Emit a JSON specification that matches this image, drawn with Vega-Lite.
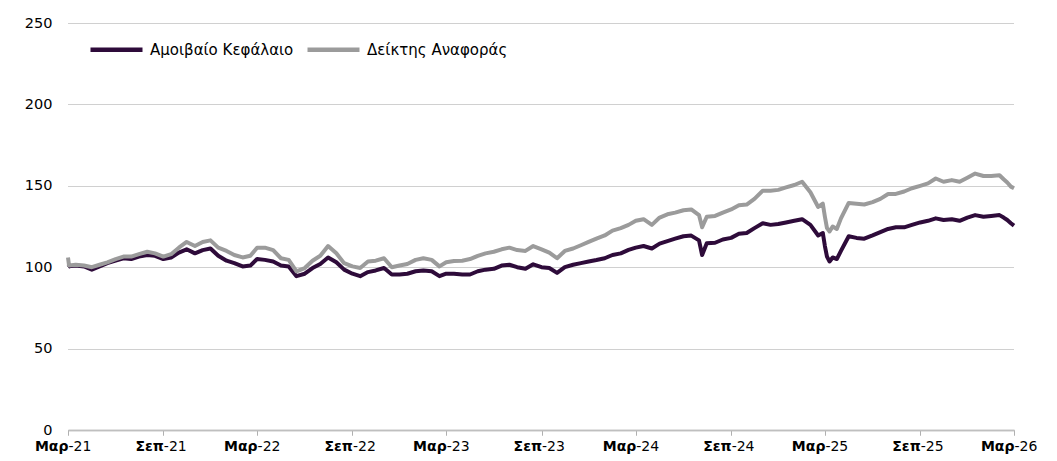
{
"$schema":"https://vega.github.io/schema/vega-lite/v6.json",
"width":946,"height":407,
"autosize":{"type":"none"},
"padding":{"left":68,"top":23,"right":43,"bottom":31},
"background":"white",
"config":{"view":{"stroke":null},"font":"DejaVu Sans"},
"data":{"values":[
{"date":"2021-03-01","Αμοιβαίο Κεφάλαιο":100,"Δείκτης Αναφοράς":106},
{"date":"2021-03-03","Αμοιβαίο Κεφάλαιο":100.5,"Δείκτης Αναφοράς":101},
{"date":"2021-03-16","Αμοιβαίο Κεφάλαιο":101,"Δείκτης Αναφοράς":101.5},
{"date":"2021-04-01","Αμοιβαίο Κεφάλαιο":100.5,"Δείκτης Αναφοράς":101},
{"date":"2021-04-16","Αμοιβαίο Κεφάλαιο":98.5,"Δείκτης Αναφοράς":100},
{"date":"2021-05-01","Αμοιβαίο Κεφάλαιο":100.5,"Δείκτης Αναφοράς":101.5},
{"date":"2021-05-16","Αμοιβαίο Κεφάλαιο":102.5,"Δείκτης Αναφοράς":103},
{"date":"2021-06-01","Αμοιβαίο Κεφάλαιο":104,"Δείκτης Αναφοράς":105},
{"date":"2021-06-16","Αμοιβαίο Κεφάλαιο":105.5,"Δείκτης Αναφοράς":106.5},
{"date":"2021-07-01","Αμοιβαίο Κεφάλαιο":105,"Δείκτης Αναφοράς":106.5},
{"date":"2021-07-16","Αμοιβαίο Κεφάλαιο":106.5,"Δείκτης Αναφοράς":108},
{"date":"2021-08-01","Αμοιβαίο Κεφάλαιο":107.5,"Δείκτης Αναφοράς":109.5},
{"date":"2021-08-16","Αμοιβαίο Κεφάλαιο":107,"Δείκτης Αναφοράς":108.5},
{"date":"2021-09-01","Αμοιβαίο Κεφάλαιο":105,"Δείκτης Αναφοράς":106.5},
{"date":"2021-09-16","Αμοιβαίο Κεφάλαιο":106,"Δείκτης Αναφοράς":108},
{"date":"2021-10-01","Αμοιβαίο Κεφάλαιο":109,"Δείκτης Αναφοράς":112},
{"date":"2021-10-16","Αμοιβαίο Κεφάλαιο":111,"Δείκτης Αναφοράς":115.5},
{"date":"2021-11-01","Αμοιβαίο Κεφάλαιο":108.5,"Δείκτης Αναφοράς":113},
{"date":"2021-11-16","Αμοιβαίο Κεφάλαιο":110.5,"Δείκτης Αναφοράς":115.5},
{"date":"2021-12-01","Αμοιβαίο Κεφάλαιο":111.5,"Δείκτης Αναφοράς":116.5},
{"date":"2021-12-16","Αμοιβαίο Κεφάλαιο":107,"Δείκτης Αναφοράς":112},
{"date":"2022-01-01","Αμοιβαίο Κεφάλαιο":104,"Δείκτης Αναφοράς":110},
{"date":"2022-01-16","Αμοιβαίο Κεφάλαιο":102.5,"Δείκτης Αναφοράς":107.5},
{"date":"2022-02-01","Αμοιβαίο Κεφάλαιο":100.5,"Δείκτης Αναφοράς":106},
{"date":"2022-02-16","Αμοιβαίο Κεφάλαιο":101,"Δείκτης Αναφοράς":107},
{"date":"2022-03-01","Αμοιβαίο Κεφάλαιο":105,"Δείκτης Αναφοράς":112},
{"date":"2022-03-16","Αμοιβαίο Κεφάλαιο":104.5,"Δείκτης Αναφοράς":112},
{"date":"2022-04-01","Αμοιβαίο Κεφάλαιο":103.5,"Δείκτης Αναφοράς":110.5},
{"date":"2022-04-16","Αμοιβαίο Κεφάλαιο":101,"Δείκτης Αναφοράς":105.5},
{"date":"2022-05-01","Αμοιβαίο Κεφάλαιο":100.5,"Δείκτης Αναφοράς":104.5},
{"date":"2022-05-16","Αμοιβαίο Κεφάλαιο":94.5,"Δείκτης Αναφοράς":97.5},
{"date":"2022-06-01","Αμοιβαίο Κεφάλαιο":96,"Δείκτης Αναφοράς":99.5},
{"date":"2022-06-16","Αμοιβαίο Κεφάλαιο":99.5,"Δείκτης Αναφοράς":104},
{"date":"2022-07-01","Αμοιβαίο Κεφάλαιο":102,"Δείκτης Αναφοράς":107},
{"date":"2022-07-16","Αμοιβαίο Κεφάλαιο":106,"Δείκτης Αναφοράς":113},
{"date":"2022-08-01","Αμοιβαίο Κεφάλαιο":103,"Δείκτης Αναφοράς":108.5},
{"date":"2022-08-16","Αμοιβαίο Κεφάλαιο":98.5,"Δείκτης Αναφοράς":102.5},
{"date":"2022-09-01","Αμοιβαίο Κεφάλαιο":96,"Δείκτης Αναφοράς":100.5},
{"date":"2022-09-16","Αμοιβαίο Κεφάλαιο":94.5,"Δείκτης Αναφοράς":99.5},
{"date":"2022-10-01","Αμοιβαίο Κεφάλαιο":97,"Δείκτης Αναφοράς":103.5},
{"date":"2022-10-16","Αμοιβαίο Κεφάλαιο":98,"Δείκτης Αναφοράς":104},
{"date":"2022-11-01","Αμοιβαίο Κεφάλαιο":99.5,"Δείκτης Αναφοράς":105.5},
{"date":"2022-11-16","Αμοιβαίο Κεφάλαιο":95.5,"Δείκτης Αναφοράς":100},
{"date":"2022-12-01","Αμοιβαίο Κεφάλαιο":95.5,"Δείκτης Αναφοράς":101},
{"date":"2022-12-16","Αμοιβαίο Κεφάλαιο":96,"Δείκτης Αναφοράς":102},
{"date":"2023-01-01","Αμοιβαίο Κεφάλαιο":97.5,"Δείκτης Αναφοράς":104.5},
{"date":"2023-01-16","Αμοιβαίο Κεφάλαιο":98,"Δείκτης Αναφοράς":105.5},
{"date":"2023-02-01","Αμοιβαίο Κεφάλαιο":97.5,"Δείκτης Αναφοράς":104.5},
{"date":"2023-02-16","Αμοιβαίο Κεφάλαιο":94.5,"Δείκτης Αναφοράς":100.5},
{"date":"2023-03-01","Αμοιβαίο Κεφάλαιο":96,"Δείκτης Αναφοράς":103},
{"date":"2023-03-16","Αμοιβαίο Κεφάλαιο":96,"Δείκτης Αναφοράς":103.8},
{"date":"2023-04-01","Αμοιβαίο Κεφάλαιο":95.5,"Δείκτης Αναφοράς":104},
{"date":"2023-04-16","Αμοιβαίο Κεφάλαιο":95.5,"Δείκτης Αναφοράς":105},
{"date":"2023-05-01","Αμοιβαίο Κεφάλαιο":97.5,"Δείκτης Αναφοράς":107},
{"date":"2023-05-16","Αμοιβαίο Κεφάλαιο":98.5,"Δείκτης Αναφοράς":108.5},
{"date":"2023-06-01","Αμοιβαίο Κεφάλαιο":99,"Δείκτης Αναφοράς":109.5},
{"date":"2023-06-16","Αμοιβαίο Κεφάλαιο":101,"Δείκτης Αναφοράς":111},
{"date":"2023-07-01","Αμοιβαίο Κεφάλαιο":101.5,"Δείκτης Αναφοράς":112},
{"date":"2023-07-16","Αμοιβαίο Κεφάλαιο":100,"Δείκτης Αναφοράς":110.5},
{"date":"2023-08-01","Αμοιβαίο Κεφάλαιο":99,"Δείκτης Αναφοράς":110},
{"date":"2023-08-16","Αμοιβαίο Κεφάλαιο":101.8,"Δείκτης Αναφοράς":113},
{"date":"2023-09-01","Αμοιβαίο Κεφάλαιο":100,"Δείκτης Αναφοράς":111},
{"date":"2023-09-16","Αμοιβαίο Κεφάλαιο":99.5,"Δείκτης Αναφοράς":109},
{"date":"2023-10-01","Αμοιβαίο Κεφάλαιο":96.5,"Δείκτης Αναφοράς":105.5},
{"date":"2023-10-16","Αμοιβαίο Κεφάλαιο":100,"Δείκτης Αναφοράς":110},
{"date":"2023-11-01","Αμοιβαίο Κεφάλαιο":101.5,"Δείκτης Αναφοράς":111.5},
{"date":"2023-11-16","Αμοιβαίο Κεφάλαιο":102.5,"Δείκτης Αναφοράς":113.5},
{"date":"2023-12-01","Αμοιβαίο Κεφάλαιο":103.5,"Δείκτης Αναφοράς":115.5},
{"date":"2023-12-16","Αμοιβαίο Κεφάλαιο":104.4,"Δείκτης Αναφοράς":117.5},
{"date":"2024-01-01","Αμοιβαίο Κεφάλαιο":105.5,"Δείκτης Αναφοράς":119.5},
{"date":"2024-01-16","Αμοιβαίο Κεφάλαιο":107.5,"Δείκτης Αναφοράς":122.5},
{"date":"2024-02-01","Αμοιβαίο Κεφάλαιο":108.5,"Δείκτης Αναφοράς":124},
{"date":"2024-02-16","Αμοιβαίο Κεφάλαιο":110.6,"Δείκτης Αναφοράς":126},
{"date":"2024-03-01","Αμοιβαίο Κεφάλαιο":112,"Δείκτης Αναφοράς":128.5},
{"date":"2024-03-16","Αμοιβαίο Κεφάλαιο":113,"Δείκτης Αναφοράς":129.5},
{"date":"2024-04-01","Αμοιβαίο Κεφάλαιο":111.5,"Δείκτης Αναφοράς":126},
{"date":"2024-04-16","Αμοιβαίο Κεφάλαιο":114.5,"Δείκτης Αναφοράς":130.5},
{"date":"2024-05-01","Αμοιβαίο Κεφάλαιο":116,"Δείκτης Αναφοράς":132.5},
{"date":"2024-05-16","Αμοιβαίο Κεφάλαιο":117.5,"Δείκτης Αναφοράς":133.5},
{"date":"2024-06-01","Αμοιβαίο Κεφάλαιο":119,"Δείκτης Αναφοράς":135},
{"date":"2024-06-16","Αμοιβαίο Κεφάλαιο":119.4,"Δείκτης Αναφοράς":135.5},
{"date":"2024-07-01","Αμοιβαίο Κεφάλαιο":116.5,"Δείκτης Αναφοράς":132},
{"date":"2024-07-07","Αμοιβαίο Κεφάλαιο":107.5,"Δείκτης Αναφοράς":124.5},
{"date":"2024-07-16","Αμοιβαίο Κεφάλαιο":114.7,"Δείκτης Αναφοράς":131},
{"date":"2024-08-01","Αμοιβαίο Κεφάλαιο":115,"Δείκτης Αναφοράς":131.5},
{"date":"2024-08-16","Αμοιβαίο Κεφάλαιο":117,"Δείκτης Αναφοράς":133.5},
{"date":"2024-09-01","Αμοιβαίο Κεφάλαιο":118,"Δείκτης Αναφοράς":135.5},
{"date":"2024-09-16","Αμοιβαίο Κεφάλαιο":120.5,"Δείκτης Αναφοράς":138},
{"date":"2024-10-01","Αμοιβαίο Κεφάλαιο":121,"Δείκτης Αναφοράς":138.5},
{"date":"2024-10-16","Αμοιβαίο Κεφάλαιο":124,"Δείκτης Αναφοράς":142},
{"date":"2024-11-01","Αμοιβαίο Κεφάλαιο":127,"Δείκτης Αναφοράς":147},
{"date":"2024-11-16","Αμοιβαίο Κεφάλαιο":126,"Δείκτης Αναφοράς":147},
{"date":"2024-12-01","Αμοιβαίο Κεφάλαιο":126.5,"Δείκτης Αναφοράς":147.5},
{"date":"2024-12-16","Αμοιβαίο Κεφάλαιο":127.5,"Δείκτης Αναφοράς":149},
{"date":"2025-01-01","Αμοιβαίο Κεφάλαιο":128.5,"Δείκτης Αναφοράς":150.5},
{"date":"2025-01-16","Αμοιβαίο Κεφάλαιο":129.5,"Δείκτης Αναφοράς":152.5},
{"date":"2025-02-01","Αμοιβαίο Κεφάλαιο":126,"Δείκτης Αναφοράς":146},
{"date":"2025-02-16","Αμοιβαίο Κεφάλαιο":119.5,"Δείκτης Αναφοράς":137},
{"date":"2025-02-25","Αμοιβαίο Κεφάλαιο":121,"Δείκτης Αναφοράς":139},
{"date":"2025-03-01","Αμοιβαίο Κεφάλαιο":113,"Δείκτης Αναφοράς":131},
{"date":"2025-03-05","Αμοιβαίο Κεφάλαιο":106.5,"Δείκτης Αναφοράς":124},
{"date":"2025-03-10","Αμοιβαίο Κεφάλαιο":103.5,"Δείκτης Αναφοράς":122},
{"date":"2025-03-16","Αμοιβαίο Κεφάλαιο":106,"Δείκτης Αναφοράς":125},
{"date":"2025-03-24","Αμοιβαίο Κεφάλαιο":105,"Δείκτης Αναφοράς":123.5},
{"date":"2025-04-01","Αμοιβαίο Κεφάλαιο":110,"Δείκτης Αναφοράς":130},
{"date":"2025-04-16","Αμοιβαίο Κεφάλαιο":119,"Δείκτης Αναφοράς":139.5},
{"date":"2025-05-01","Αμοιβαίο Κεφάλαιο":118,"Δείκτης Αναφοράς":139},
{"date":"2025-05-16","Αμοιβαίο Κεφάλαιο":117.5,"Δείκτης Αναφοράς":138.5},
{"date":"2025-06-01","Αμοιβαίο Κεφάλαιο":119.5,"Δείκτης Αναφοράς":140},
{"date":"2025-06-16","Αμοιβαίο Κεφάλαιο":121.5,"Δείκτης Αναφοράς":142},
{"date":"2025-07-01","Αμοιβαίο Κεφάλαιο":123.5,"Δείκτης Αναφοράς":145},
{"date":"2025-07-16","Αμοιβαίο Κεφάλαιο":124.5,"Δείκτης Αναφοράς":145},
{"date":"2025-08-01","Αμοιβαίο Κεφάλαιο":124.5,"Δείκτης Αναφοράς":146.5},
{"date":"2025-08-16","Αμοιβαίο Κεφάλαιο":126,"Δείκτης Αναφοράς":148.5},
{"date":"2025-09-01","Αμοιβαίο Κεφάλαιο":127.5,"Δείκτης Αναφοράς":150},
{"date":"2025-09-16","Αμοιβαίο Κεφάλαιο":128.5,"Δείκτης Αναφοράς":151.5},
{"date":"2025-10-01","Αμοιβαίο Κεφάλαιο":130,"Δείκτης Αναφοράς":154.5},
{"date":"2025-10-16","Αμοιβαίο Κεφάλαιο":129,"Δείκτης Αναφοράς":152.5},
{"date":"2025-11-01","Αμοιβαίο Κεφάλαιο":129.5,"Δείκτης Αναφοράς":153.5},
{"date":"2025-11-16","Αμοιβαίο Κεφάλαιο":128.5,"Δείκτης Αναφοράς":152.5},
{"date":"2025-12-01","Αμοιβαίο Κεφάλαιο":130.5,"Δείκτης Αναφοράς":155},
{"date":"2025-12-16","Αμοιβαίο Κεφάλαιο":132,"Δείκτης Αναφοράς":157.5},
{"date":"2026-01-01","Αμοιβαίο Κεφάλαιο":131,"Δείκτης Αναφοράς":156},
{"date":"2026-01-16","Αμοιβαίο Κεφάλαιο":131.5,"Δείκτης Αναφοράς":156},
{"date":"2026-02-01","Αμοιβαίο Κεφάλαιο":132,"Δείκτης Αναφοράς":156.5},
{"date":"2026-02-09","Αμοιβαίο Κεφάλαιο":130.5,"Δείκτης Αναφοράς":154},
{"date":"2026-02-16","Αμοιβαίο Κεφάλαιο":129,"Δείκτης Αναφοράς":152},
{"date":"2026-02-23","Αμοιβαίο Κεφάλαιο":127,"Δείκτης Αναφοράς":149.5},
{"date":"2026-03-01","Αμοιβαίο Κεφάλαιο":125.5,"Δείκτης Αναφοράς":148.5}
]},
"transform":[{"fold":["Αμοιβαίο Κεφάλαιο","Δείκτης Αναφοράς"],"as":["series","value"]}],
"layer":[
{
"mark":{"type":"line","strokeWidth":4,"strokeJoin":"round"},
"encoding":{
"x":{"field":"date","type":"temporal",
"scale":{"domain":[{"year":2021,"month":3,"date":1,"utc":true},{"year":2026,"month":3,"date":1,"utc":true}]},
"axis":{"orient":"bottom","title":null,
"values":[{"year":2021,"month":3,"date":1,"utc":true},{"year":2021,"month":9,"date":1,"utc":true},{"year":2022,"month":3,"date":1,"utc":true},{"year":2022,"month":9,"date":1,"utc":true},{"year":2023,"month":3,"date":1,"utc":true},{"year":2023,"month":9,"date":1,"utc":true},{"year":2024,"month":3,"date":1,"utc":true},{"year":2024,"month":9,"date":1,"utc":true},{"year":2025,"month":3,"date":1,"utc":true},{"year":2025,"month":9,"date":1,"utc":true},{"year":2026,"month":3,"date":1,"utc":true}],
"labelExpr":"utcFormat(datum.value,'%m')=='03' ? 'Μαρ' : 'Σεπ'",
"labelAlign":"right","labelDx":5,"labelFontWeight":"bold","labelFontSize":14,"labelColor":"#000000","labelFont":"DejaVu Sans",
"labelPadding":4,"labelFlush":false,"labelOverlap":false,"grid":false,
"domainColor":"#bfbfbf","domainWidth":1.5,"tickColor":"#b0b0b0","tickSize":5,"tickWidth":1}},
"y":{"field":"value","type":"quantitative","scale":{"domain":[0,250],"nice":false},
"axis":{"title":null,"values":[0,50,100,150,200,250],"domain":false,"ticks":false,"tickSize":0,"labelPadding":16,
"labelFontSize":14.5,"labelColor":"#000000","labelFont":"DejaVu Sans",
"grid":true,"gridColor":"#a0a0a0","gridDash":[1,1],"gridWidth":1}},
"color":{"field":"series","type":"nominal",
"scale":{"domain":["Αμοιβαίο Κεφάλαιο","Δείκτης Αναφοράς"],"range":["#2e0b3a","#9b9b9b"]},
"legend":{"orient":"none","legendX":20,"legendY":-2,"direction":"horizontal","title":null,
"symbolType":"stroke","symbolSize":2704,"symbolStrokeWidth":4.5,
"labelFont":"DejaVu Sans","labelFontSize":15,"labelColor":"#000000","labelOffset":5,"columnPadding":4,"padding":0}}
}
},
{
"mark":{"type":"point","opacity":0},
"encoding":{
"x":{"field":"date","type":"temporal",
"scale":{"domain":[{"year":2021,"month":3,"date":1,"utc":true},{"year":2026,"month":3,"date":1,"utc":true}]},
"axis":{"orient":"bottom","title":null,
"values":[{"year":2021,"month":3,"date":1,"utc":true},{"year":2021,"month":9,"date":1,"utc":true},{"year":2022,"month":3,"date":1,"utc":true},{"year":2022,"month":9,"date":1,"utc":true},{"year":2023,"month":3,"date":1,"utc":true},{"year":2023,"month":9,"date":1,"utc":true},{"year":2024,"month":3,"date":1,"utc":true},{"year":2024,"month":9,"date":1,"utc":true},{"year":2025,"month":3,"date":1,"utc":true},{"year":2025,"month":9,"date":1,"utc":true},{"year":2026,"month":3,"date":1,"utc":true}],
"labelExpr":"'-' + utcFormat(datum.value,'%y')",
"labelAlign":"left","labelDx":5,"labelFontWeight":"normal","labelFontSize":14,"labelColor":"#000000","labelFont":"DejaVu Sans",
"labelPadding":4,"labelFlush":false,"labelOverlap":false,"grid":false,
"domainColor":"#bfbfbf","domainWidth":1.5,"tickColor":"#b0b0b0","tickSize":5,"tickWidth":1}},
"y":{"field":"value","type":"quantitative","scale":{"domain":[0,250],"nice":false}}
}
}
],
"resolve":{"axis":{"x":"independent"}}
}
